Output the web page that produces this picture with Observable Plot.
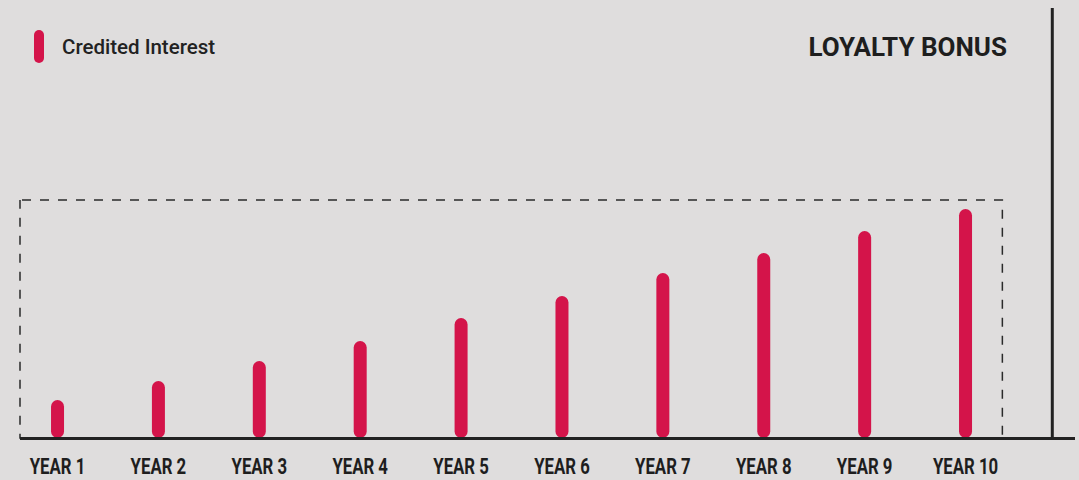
<!DOCTYPE html>
<html>
<head>
<meta charset="utf-8">
<script src="https://cdn.jsdelivr.net/npm/d3@7"></script>
<script src="https://cdn.jsdelivr.net/npm/@observablehq/plot@0.6"></script>
<style>
  html, body { margin: 0; padding: 0; background: #dfdddd; }
  #wrap { position: relative; width: 1079px; height: 480px; overflow: hidden; }
  #legend { position: absolute; left: 34px; top: 30px; height: 33px; display: flex; align-items: center; font-family: Roboto, "Noto Sans", sans-serif; font-weight: 500; font-size: 20.5px; color: #222; }
  #legend .pill { width: 10px; height: 33px; border-radius: 5px; background: #d4144a; margin-right: 18px; }
  #title { position: absolute; right: 72px; top: 32px; font-family: Roboto, "Noto Sans", sans-serif; font-weight: 700; font-size: 26px; color: #1e1e1e; }
  svg { position: absolute; left: 0; top: 0; }
</style>
</head>
<body>
<div id="wrap">
  <div id="legend"><div class="pill"></div><span>Credited Interest</span></div>
  <div id="title">LOYALTY BONUS</div>
</div>
<script>
// Data
const years = [1, 2, 3, 4, 5, 6, 7, 8, 9, 10];
const tickLabels = ["YEAR 1", "YEAR 2", "YEAR 3", "YEAR 4", "YEAR 5", "YEAR 6", "YEAR 7", "YEAR 8", "YEAR 9", "YEAR 10"];
const creditedInterest = [1.9, 2.85, 3.85, 4.85, 6.0, 7.1, 8.25, 9.25, 10.35, 11.45];
const loyaltyBoxTop = 11.9;
const loyaltyBoxEnd = 10.37;
const dividerAt = 10.86;
const dividerTop = 21.5;

const data = years.map((y, i) => ({year: y, value: creditedInterest[i]}));
const capR = 0.33; // half bar width in y units

const xDomain = [0.633, 11.09];
const yDomain = [0, 21.9];

const chart = Plot.plot({
  width: 1079,
  height: 480,
  marginLeft: 20,
  marginRight: 4,
  marginTop: 0,
  marginBottom: 42,
  style: {background: "transparent", overflow: "visible"},
  x: {domain: xDomain},
  y: {domain: yDomain},
  marks: [
    Plot.rect([{x1: xDomain[0], x2: loyaltyBoxEnd, y1: 0, y2: loyaltyBoxTop}], {
      x1: "x1", x2: "x2", y1: "y1", y2: "y2",
      fill: "none", stroke: "#2a2a2a", strokeWidth: 1.5, strokeDasharray: "9,9", strokeDashoffset: -2
    }),
    Plot.ruleX(data, {
      x: "year", y1: capR, y2: d => d.value - capR,
      stroke: "#d4144a", strokeWidth: 13, strokeLinecap: "round"
    }),
    Plot.ruleX([dividerAt], {y1: 0, y2: dividerTop, stroke: "#222", strokeWidth: 3}),
    Plot.ruleY([0], {stroke: "#222", strokeWidth: 3}),
    Plot.axisX({
      ticks: years,
      tickFormat: d => tickLabels[d - 1],
      tickSize: 0,
      tickPadding: 20,
      fontSize: 21.5,
      fontWeight: 700,
      fontFamily: "Roboto, sans-serif",
      fill: "#1e1e1e",
      label: null
    }),
    Plot.axisY({ticks: [], label: null, tickSize: 0})
  ]
});
// condense the tick labels horizontally
d3.select(chart).selectAll('g[aria-label="x-axis tick label"] text').each(function() {
  const t = this.getAttribute("transform") || "";
  this.setAttribute("transform", t + " scale(0.78,1)");
});
document.getElementById("wrap").prepend(chart);
</script>
</body>
</html>
